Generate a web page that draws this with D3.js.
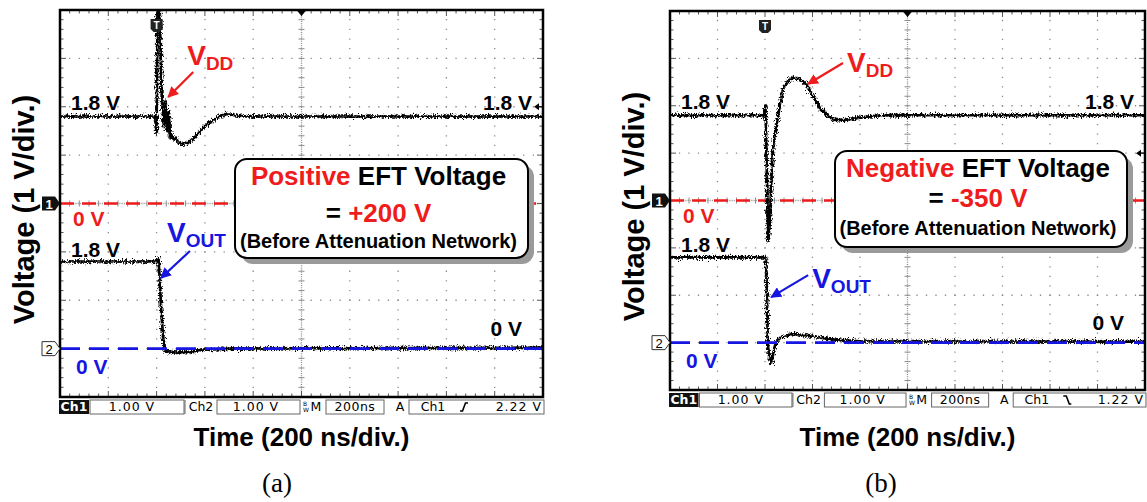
<!DOCTYPE html>
<html>
<head>
<meta charset="utf-8">
<script src="https://cdn.jsdelivr.net/npm/d3@7"></script>
<style>
  body { margin: 0; background: #fff; }
  svg { display: block; }
  text { font-family: "Liberation Sans", Arial, sans-serif; font-weight: bold; }
  .scope text { font-family: "DejaVu Sans", sans-serif; font-weight: normal; }
</style>
</head>
<body>
<svg id="chart" width="1147" height="502"></svg>
<script>
// ---- values: time in divisions (0..10), voltage in V ----
var vddTimeA = [0, 1.97, 2.0, 2.02, 2.06, 2.10, 2.15, 2.18, 2.22, 2.25, 2.28, 2.34, 2.40, 2.53, 2.65, 2.82, 3.0, 3.21, 3.42, 3.83, 10];
var vddVoltA = [1.8, 1.8, 1.45, 4.3, 4.3, 2.3, 1.6, 2.1, 1.5, 1.9, 1.35, 1.4, 1.3, 1.22, 1.25, 1.4, 1.6, 1.75, 1.85, 1.8, 1.8];
var voutTimeA = [0, 2.0, 2.04, 2.06, 2.09, 2.12, 2.15, 2.19, 2.38, 2.69, 2.9, 3.52, 10];
var voutVoltA = [1.8, 1.8, 1.87, 1.5, 0.9, 0.45, 0.1, -0.05, -0.08, -0.07, -0.03, 0.0, 0.02];

var vddTimeB = [0, 1.98, 2.01, 2.04, 2.07, 2.10, 2.13, 2.16, 2.19, 2.23, 2.27, 2.32, 2.38, 2.46, 2.59, 2.74, 2.88, 3.01, 3.16, 3.31, 3.47, 3.68, 4.0, 4.42, 10];
var vddVoltB = [1.8, 1.8, 2.0, 0.5, -0.85, -0.5, 0.3, 1.0, 1.3, 1.45, 1.75, 2.05, 2.35, 2.5, 2.6, 2.55, 2.45, 2.2, 1.95, 1.8, 1.7, 1.7, 1.75, 1.8, 1.8];
var voutTimeB = [0, 2.02, 2.04, 2.06, 2.09, 2.13, 2.17, 2.23, 2.32, 2.53, 2.74, 3.05, 3.47, 4.0, 10];
var voutVoltB = [1.8, 1.8, 1.0, 0.0, -0.35, -0.43, -0.25, 0.0, 0.1, 0.18, 0.17, 0.12, 0.06, 0.03, 0.02];

// scope settings / labels
var channelOffsets = [0, -3];           // ground of ch1, ch2 in divisions
var triggerTime = 2;                    // divisions from left
var triggerMark = [2.0, 1.0];           // level arrow on the right edge (V)
var statusA = ['Ch1', '1.00 V', 'Ch2', '1.00 V', 'M', '200ns', 'A', 'Ch1', '2.22 V'];
var statusB = ['Ch1', '1.00 V', 'Ch2', '1.00 V', 'M', '200ns', 'A', 'Ch1', '1.22 V'];
var trigSlope = ['rise', 'fall'];
var eftPolarity = ['Positive', 'Negative'];
var eftVoltage = ['+200 V', '-350 V'];
var panelNames = ['(a)', '(b)'];

var RED = '#ee1c1c', BLUE = '#1616e0';

var svg = d3.select('#chart');
var defs = svg.append('defs');

// scope trace texture (two grains)
function noiseFilter(id, freq, seed, scale) {
  var f = defs.append('filter').attr('id', id)
    .attr('filterUnits', 'userSpaceOnUse').attr('x', 0).attr('y', 0).attr('width', 1147).attr('height', 502);
  f.append('feTurbulence').attr('type', 'fractalNoise').attr('baseFrequency', freq)
    .attr('numOctaves', 2).attr('seed', seed).attr('result', 'n');
  f.append('feDisplacementMap').attr('in', 'SourceGraphic').attr('in2', 'n')
    .attr('scale', scale).attr('xChannelSelector', 'R').attr('yChannelSelector', 'G');
}
noiseFilter('noise', '0.9 0.3', 4, 6);
noiseFilter('noise2', '1.4 0.6', 11, 11);

var panels = [
  { id: 'a', left: 60, top: 10, width: 483, height: 387,
    vdd: [vddTimeA, vddVoltA], vout: [voutTimeA, voutVoltA], status: statusA, slope: trigSlope[0],
    trig: triggerMark[0], polarity: eftPolarity[0], eft: eftVoltage[0], name: panelNames[0], nameX: 277,
    box: { dx: 175, dy: 149, w: 293, h: 99, lines: [26, 63, 89] },
    vddCall: { t: 2.24, v: 2.2, tail: [25, -25], label: [19, -32] },
    voutCall: { t: 2.09, v: 1.46, tail: [29, -27], label: [6, -36] } },
  { id: 'b', left: 670, top: 11, width: 475, height: 379,
    vdd: [vddTimeB, vddVoltB], vout: [voutTimeB, voutVoltB], status: statusB, slope: trigSlope[1],
    trig: triggerMark[1], polarity: eftPolarity[1], eft: eftVoltage[1], name: panelNames[1], nameX: 881,
    box: { dx: 165, dy: 140, w: 292, h: 96, lines: [26, 56, 84] },
    vddCall: { t: 2.905, v: 2.46, tail: [35, -21], label: [39, -12] },
    voutCall: { t: 2.13, v: 0.96, tail: [37, -22], label: [41, -9] } }
];

defs.append('marker').attr('id', 'ahRed').attr('viewBox', '0 0 10 10').attr('refX', 9).attr('refY', 5)
  .attr('markerWidth', 5).attr('markerHeight', 5).attr('orient', 'auto')
  .append('path').attr('d', 'M0,0L10,5L0,10z').attr('fill', RED);
defs.append('marker').attr('id', 'ahBlue').attr('viewBox', '0 0 10 10').attr('refX', 9).attr('refY', 5)
  .attr('markerWidth', 5).attr('markerHeight', 5).attr('orient', 'auto')
  .append('path').attr('d', 'M0,0L10,5L0,10z').attr('fill', BLUE);

panels.forEach(drawPanel);

function drawPanel(p) {
  var x = d3.scaleLinear().domain([0, 10]).range([p.left, p.left + p.width]);
  var y = d3.scaleLinear().domain([-4, 4]).range([p.top + p.height, p.top]);
  var y1 = function (v) { return y(v + channelOffsets[0]); };
  var y2 = function (v) { return y(v + channelOffsets[1]); };
  var divX = p.width / 10, divY = p.height / 8;
  var right = x(10), bottom = y(-4);
  var g = svg.append('g');

  defs.append('clipPath').attr('id', 'clip-' + p.id).append('rect')
    .attr('x', p.left).attr('y', p.top).attr('width', p.width).attr('height', p.height);

  // dotted graticule
  var grid = g.append('g').attr('stroke', '#8c8c8c').attr('stroke-width', 1.3);
  d3.range(1, 10).filter(function (i) { return i !== 5; }).forEach(function (i) {
    grid.append('line').attr('x1', x(i)).attr('x2', x(i)).attr('y1', p.top).attr('y2', bottom)
      .attr('stroke-dasharray', '1.3,' + (divY / 5 - 1.3)).attr('stroke-dashoffset', 0.65);
  });
  d3.range(-3, 4).filter(function (j) { return j !== 0; }).forEach(function (j) {
    grid.append('line').attr('x1', p.left).attr('x2', right).attr('y1', y(j)).attr('y2', y(j))
      .attr('stroke-dasharray', '1.3,' + (divX / 5 - 1.3)).attr('stroke-dashoffset', 0.65);
  });
  // centre cross with minor ticks
  grid.append('line').attr('x1', x(5)).attr('x2', x(5)).attr('y1', p.top).attr('y2', bottom).attr('stroke-dasharray', '1,1.2');
  grid.append('line').attr('x1', p.left).attr('x2', right).attr('y1', y(0)).attr('y2', y(0)).attr('stroke-dasharray', '1,1.2');
  d3.range(1, 40).forEach(function (k) {
    var yy = p.top + k * divY / 5;
    grid.append('line').attr('x1', x(5) - 3).attr('x2', x(5) + 3).attr('y1', yy).attr('y2', yy).attr('stroke-width', 1);
  });
  d3.range(1, 50).forEach(function (k) {
    var xx = p.left + k * divX / 5;
    grid.append('line').attr('x1', xx).attr('x2', xx).attr('y1', y(0) - 3).attr('y2', y(0) + 3).attr('stroke-width', 1);
    var len = k % 5 === 0 ? 6 : 3.5;
    grid.append('line').attr('x1', xx).attr('x2', xx).attr('y1', bottom).attr('y2', bottom - len).attr('stroke', '#555').attr('stroke-width', 1);
    grid.append('line').attr('x1', xx).attr('x2', xx).attr('y1', p.top).attr('y2', p.top + len).attr('stroke', '#555').attr('stroke-width', 1);
  });
  d3.range(1, 40).forEach(function (k) {
    var yy = p.top + k * divY / 5;
    var len = k % 5 === 0 ? 6 : 3.5;
    grid.append('line').attr('x1', p.left).attr('x2', p.left + len).attr('y1', yy).attr('y2', yy).attr('stroke', '#555').attr('stroke-width', 1);
    grid.append('line').attr('x1', right).attr('x2', right - len).attr('y1', yy).attr('y2', yy).attr('stroke', '#555').attr('stroke-width', 1);
  });

  // ch1 ground (red dashed)
  g.append('line').attr('x1', p.left).attr('x2', right).attr('y1', y1(0)).attr('y2', y1(0))
    .attr('stroke', RED).attr('stroke-width', 2.6).attr('stroke-dasharray', '14,8');

  // traces
  var traces = g.append('g').attr('clip-path', 'url(#clip-' + p.id + ')');
  var lineVdd = d3.line().x(function (d) { return x(d[0]); }).y(function (d) { return y1(d[1]); });
  var lineVout = d3.line().x(function (d) { return x(d[0]); }).y(function (d) { return y2(d[1]); });
  var vddPts = d3.zip(p.vdd[0], p.vdd[1]);
  var voutPts = d3.zip(p.vout[0], p.vout[1]);
  [['noise', 2.6], ['noise2', 1.3]].forEach(function (layer) {
    var tg = traces.append('g').attr('filter', 'url(#' + layer[0] + ')').attr('fill', 'none').attr('stroke', '#000')
      .attr('stroke-width', layer[1]).attr('stroke-linejoin', 'round');
    tg.append('path').attr('d', lineVdd(vddPts));
    tg.append('path').attr('d', lineVout(voutPts));
  });

  // ch2 ground (blue dashed) over its trace
  g.append('line').attr('x1', p.left).attr('x2', right).attr('y1', y2(0)).attr('y2', y2(0))
    .attr('stroke', BLUE).attr('stroke-width', 2.6).attr('stroke-dasharray', '20,9');

  // frame
  g.append('rect').attr('x', p.left).attr('y', p.top).attr('width', p.width).attr('height', p.height)
    .attr('fill', 'none').attr('stroke', '#000').attr('stroke-width', 2.5);

  // scope markers
  var tx = x(triggerTime);
  g.append('path').attr('d', 'M' + (tx - 6) + ',' + (p.top + 9) + 'h12v10l-3,3h-6l-3,-3z').attr('fill', '#222');
  g.append('text').attr('x', tx).attr('y', p.top + 19).attr('text-anchor', 'middle').attr('fill', '#fff')
    .attr('font-size', 10).text('T');
  g.append('path').attr('d', 'M' + (x(5) - 5) + ',' + p.top + 'h10l-5,6z').attr('fill', '#000');
  var ty = y1(p.trig);
  g.append('path').attr('d', 'M' + (right - 9) + ',' + ty + 'l5,-3.5v7z').attr('fill', '#000');
  g.append('line').attr('x1', right - 5).attr('x2', right - 1).attr('y1', ty).attr('y2', ty).attr('stroke', '#000').attr('stroke-width', 1.2);

  var m1 = y1(0), m2 = y2(0), lx = p.left;
  g.append('path').attr('d', 'M' + (lx - 18) + ',' + (m1 - 7) + 'h13l5,7l-5,7h-13z').attr('fill', '#111');
  g.append('text').attr('x', lx - 11).attr('y', m1 + 5).attr('text-anchor', 'middle').attr('fill', '#fff').attr('font-size', 13).text('1');
  g.append('path').attr('d', 'M' + (lx - 18) + ',' + (m2 - 7) + 'h13l5,7l-5,7h-13z').attr('fill', '#fff').attr('stroke', '#333').attr('stroke-width', 1);
  g.append('text').attr('x', lx - 11).attr('y', m2 + 5).attr('text-anchor', 'middle').attr('fill', '#000').attr('font-size', 13)
    .style('font-weight', 'normal').text('2');

  // level labels
  var lab = g.append('g').attr('font-size', 21);
  lab.append('text').attr('x', x(0) + 11).attr('y', y1(1.8) - 6).text('1.8 V');
  lab.append('text').attr('x', right - 11).attr('y', y1(1.8) - 6).attr('text-anchor', 'end').text('1.8 V');
  lab.append('text').attr('x', x(0) + 13).attr('y', y1(0) + 22).attr('fill', RED).text('0 V');
  lab.append('text').attr('x', x(0) + 11).attr('y', y2(1.8) - 5).text('1.8 V');
  lab.append('text').attr('x', x(0) + 16).attr('y', y2(0) + 25).attr('fill', BLUE).text('0 V');
  lab.append('text').attr('x', right - 21).attr('y', y2(0) - 13).attr('text-anchor', 'end').text('0 V');

  // callouts
  callout(g, x(p.vddCall.t), y1(p.vddCall.v), p.vddCall, RED, 'ahRed', 'DD');
  callout(g, x(p.voutCall.t), y2(p.voutCall.v), p.voutCall, BLUE, 'ahBlue', 'OUT');

  // EFT box
  var bx = p.left + p.box.dx, by = p.top + p.box.dy;
  g.append('rect').attr('x', bx + 6).attr('y', by + 6).attr('width', p.box.w).attr('height', p.box.h)
    .attr('rx', 12).attr('fill', '#9a9a9a');
  g.append('rect').attr('x', bx).attr('y', by).attr('width', p.box.w).attr('height', p.box.h)
    .attr('rx', 12).attr('fill', '#fff').attr('stroke', '#000').attr('stroke-width', 2);
  var cx = bx + p.box.w / 2 - 3;
  var t1 = g.append('text').attr('x', cx).attr('y', by + p.box.lines[0]).attr('text-anchor', 'middle').attr('font-size', 26);
  t1.append('tspan').attr('fill', RED).text(p.polarity);
  t1.append('tspan').text(' EFT Voltage');
  var t2 = g.append('text').attr('x', cx).attr('y', by + p.box.lines[1]).attr('text-anchor', 'middle').attr('font-size', 26);
  t2.append('tspan').text('= ');
  t2.append('tspan').attr('fill', RED).text(p.eft);
  g.append('text').attr('x', cx).attr('y', by + p.box.lines[2]).attr('text-anchor', 'middle').attr('font-size', 20)
    .text('(Before Attenuation Network)');

  // status bar
  drawStatus(g, p, bottom + 3);

  // axis titles
  g.append('text').attr('transform', 'translate(' + (p.left - 26) + ',' + (y(0) + 6) + ') rotate(-90)')
    .attr('text-anchor', 'middle').attr('font-size', 29).text('Voltage (1 V/div.)');
  g.append('text').attr('x', x(5)).attr('y', 446).attr('text-anchor', 'middle').attr('font-size', 26).text('Time (200 ns/div.)');
  g.append('text').attr('x', p.nameX).attr('y', 492).attr('text-anchor', 'middle').attr('font-size', 27)
    .style('font-family', '"Liberation Serif", "Times New Roman", serif').style('font-weight', 'normal').text(p.name);
}

function callout(g, px, py, c, color, marker, sub) {
  g.append('line').attr('x1', px + c.tail[0]).attr('y1', py + c.tail[1]).attr('x2', px).attr('y2', py)
    .attr('stroke', color).attr('stroke-width', 2.2).attr('marker-end', 'url(#' + marker + ')');
  var t = g.append('text').attr('x', px + c.label[0]).attr('y', py + c.label[1]).attr('fill', color).attr('font-size', 28);
  t.append('tspan').text('V');
  t.append('tspan').attr('font-size', 19).attr('dy', 5).text(sub);
}

function drawStatus(g, p, top) {
  var k = p.width / 483;
  var sx = function (v) { return p.left + v * k; };
  var h = 14, mid = top + 11;
  var s = g.append('g').attr('class', 'scope').attr('font-size', 12.5);
  var boxes = [[30, 124], [157, 240], [266, 324], [349, 484]];
  boxes.forEach(function (b) {
    s.append('rect').attr('x', sx(b[0])).attr('y', top).attr('width', sx(b[1]) - sx(b[0])).attr('height', h)
      .attr('fill', '#fff').attr('stroke', '#666').attr('stroke-width', 1);
  });
  s.append('rect').attr('x', sx(-1)).attr('y', top).attr('width', 30 * k).attr('height', h).attr('fill', '#111');
  s.append('line').attr('x1', sx(125)).attr('x2', sx(125)).attr('y1', top).attr('y2', top + h).attr('stroke', '#666');
  var st = p.status;
  s.append('text').attr('x', sx(14)).attr('y', mid).attr('text-anchor', 'middle').attr('fill', '#fff').style('font-weight', 'bold').text(st[0]);
  s.append('text').attr('x', sx(72)).attr('y', mid).attr('text-anchor', 'middle').attr('letter-spacing', 1).text(st[1]);
  s.append('text').attr('x', sx(141)).attr('y', mid).attr('text-anchor', 'middle').text(st[2]);
  s.append('text').attr('x', sx(196)).attr('y', mid).attr('text-anchor', 'middle').attr('letter-spacing', 1).text(st[3]);
  s.append('text').attr('x', sx(243)).attr('y', top + 6).attr('font-size', 6).text('B');
  s.append('text').attr('x', sx(243)).attr('y', top + 12).attr('font-size', 6).text('W');
  s.append('text').attr('x', sx(256)).attr('y', mid).attr('text-anchor', 'middle').text(st[4]);
  s.append('text').attr('x', sx(295)).attr('y', mid).attr('text-anchor', 'middle').attr('letter-spacing', 0.5).text(st[5]);
  s.append('text').attr('x', sx(340)).attr('y', mid).attr('text-anchor', 'middle').text(st[6]);
  s.append('text').attr('x', sx(373)).attr('y', mid).attr('text-anchor', 'middle').text(st[7]);
  var gx = sx(404);
  var d = p.slope === 'rise'
    ? 'M' + (gx - 4) + ',' + (top + 11) + 'h2.5l3,-8h2.5'
    : 'M' + (gx - 4) + ',' + (top + 3) + 'h3l3,8h2';
  s.append('path').attr('d', d).attr('fill', 'none').attr('stroke', '#000').attr('stroke-width', 1.6);
  s.append('text').attr('x', sx(482)).attr('y', mid).attr('text-anchor', 'end').attr('letter-spacing', 1).text(st[8]);
}
</script>
</body>
</html>
